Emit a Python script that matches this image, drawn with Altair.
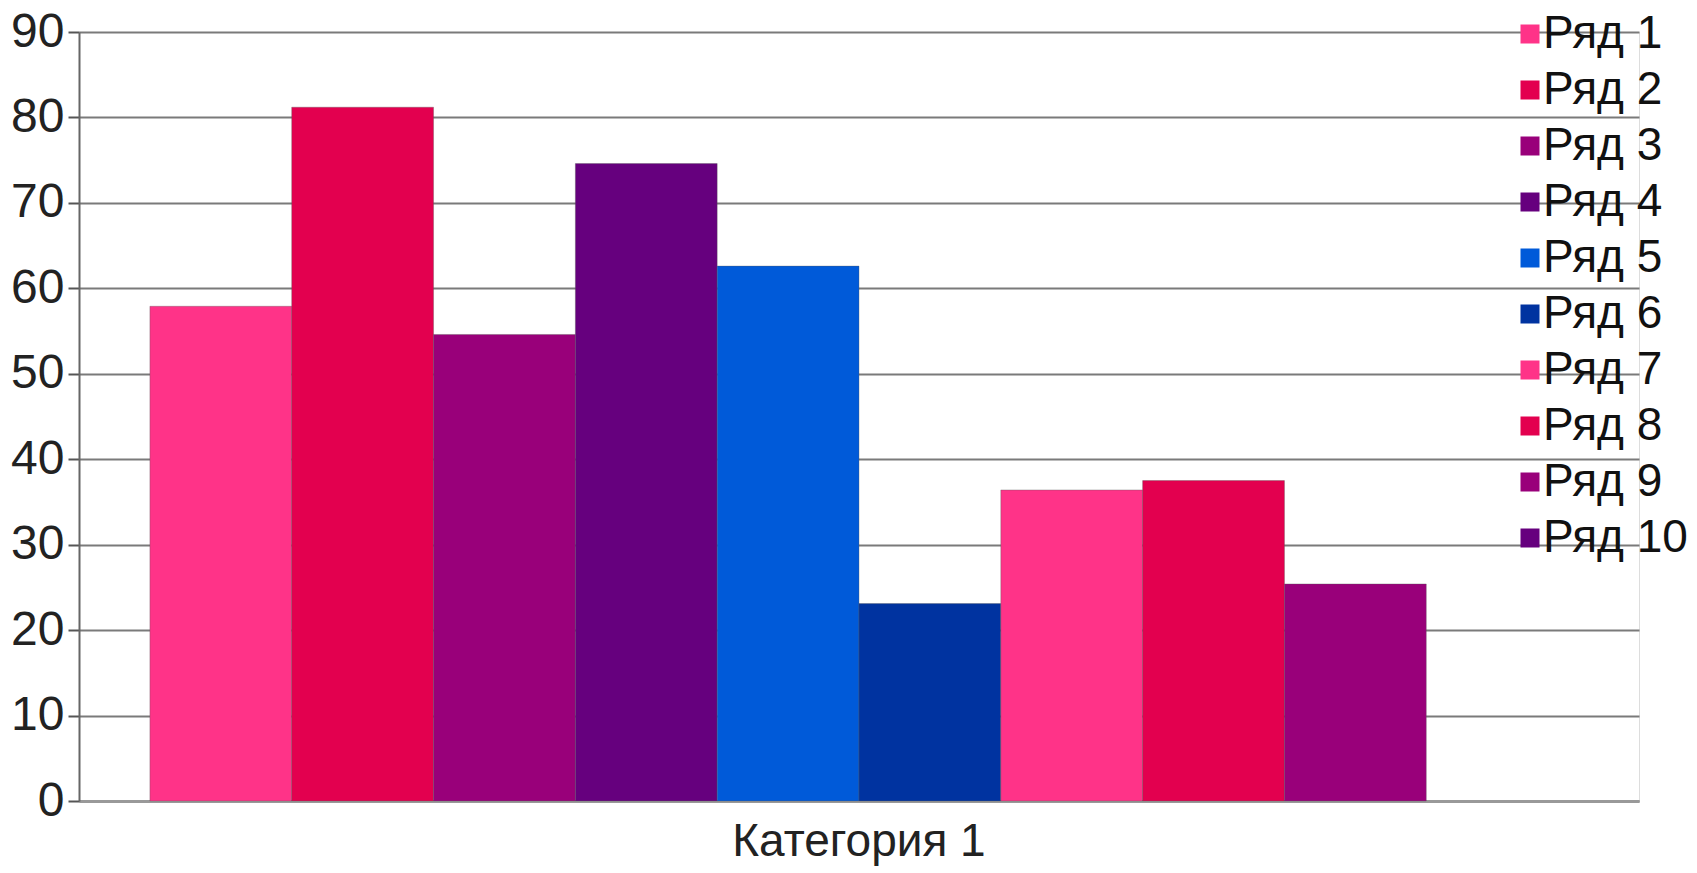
import altair as alt
import pandas as pd

categories = ["Категория 1"]
series = ["Ряд 1", "Ряд 2", "Ряд 3", "Ряд 4", "Ряд 5",
          "Ряд 6", "Ряд 7", "Ряд 8", "Ряд 9", "Ряд 10"]
values = [57.9, 81.2, 54.6, 74.6, 62.6, 23.1, 36.4, 37.5, 25.4, None]
colors = ["#FF3388", "#E3004F", "#99007A", "#66007E", "#005AD9",
          "#0033A0", "#FF3388", "#E3004F", "#99007A", "#66007E"]
y_ticks = [0, 10, 20, 30, 40, 50, 60, 70, 80, 90]

df = pd.DataFrame({
    "category": categories * len(series),
    "series": series,
    "value": values,
})

FONT = "Liberation Sans"
FS = 48
LFS = 46

bars = alt.Chart(df).mark_bar(
    stroke="#555555", strokeWidth=1, strokeOpacity=0.35
).encode(
    x=alt.X("category:N", title=None,
            scale=alt.Scale(paddingInner=0, paddingOuter=0.05),
            axis=alt.Axis(labelAngle=0, ticks=False, labelFontSize=46,
                          labelFont=FONT, labelColor="#222222", labelLimit=0,
                          labelPadding=18, domainColor="#999999",
                          domainWidth=3)),
    xOffset=alt.XOffset("series:N", sort=series,
                        scale=alt.Scale(domain=series, paddingInner=0, paddingOuter=0)),
    y=alt.Y("value:Q", title=None,
            scale=alt.Scale(domain=[0, 90], nice=False),
            axis=alt.Axis(values=y_ticks, labelFontSize=FS, labelFont=FONT,
                          labelColor="#222222", tickSize=11, tickColor="#555555",
                          tickWidth=2, labelPadding=4, domainColor="#666666",
                          domainWidth=2, gridColor="#7a7a7a", gridWidth=2)),
    color=alt.Color("series:N", sort=series,
                    scale=alt.Scale(domain=series, range=colors),
                    legend=alt.Legend(title=None, orient="none", legendX=1428,
                                      legendY=-21, symbolType="square",
                                      symbolSize=361, symbolStrokeWidth=0,
                                      labelFontSize=LFS, labelFont=FONT,
                                      labelColor="#111111",
                                      labelOffset=alt.ExprRef(expr="-10"),
                                      labelLimit=0, rowPadding=10, padding=0)),
)

chart = bars.properties(
    width=1560, height=769,
    autosize=alt.AutoSizeParams(type="none"),
    padding={"left": 71, "top": 24, "right": 50, "bottom": 66},
).configure_view(stroke=None).configure(background="white")

chart.save("out.html", embed_options={"renderer": "svg", "actions": False})
